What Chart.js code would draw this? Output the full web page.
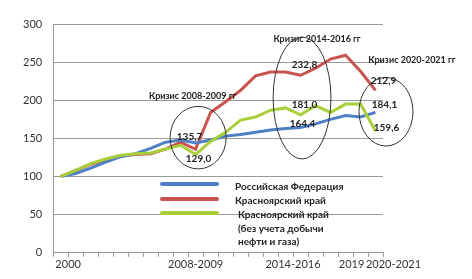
<!DOCTYPE html>
<html>
<head>
<meta charset="utf-8">
<script src="https://cdn.jsdelivr.net/npm/chart.js@4"></script>
<style>
  body { margin: 0; background: #fff; }
  #wrap { width: 472px; height: 279px; }
</style>
</head>
<body>
<div id="wrap"><canvas id="myChart" width="472" height="279"></canvas></div>
<script>
// years on the x axis
const years = ['2000','2001','2002','2003','2004','2005','2006','2007','2008','2009','2010',
  '2011','2012','2013','2014','2015','2016','2017','2018','2019','2020','2021'];
// what is printed under the axis, and where (in year-index units)
const tickLabels = ['2000', '2008-2009', '2014-2016', '2019', '2020-2021'];
const tickSpots = [0.5, 9.0, 15.5, 19.4, 22.2];

// index 2000 = 100
const russia = [100, 104, 111, 119, 126, 130, 137, 145, 148, 144, 148,
  153, 155, 158, 161, 163, 164.4, 169, 175, 180, 178, 184.1];
const krasnoyarsk = [100, 108, 116, 122, 127, 129, 130, 136, 145, 135.7, 184,
  198, 213, 232, 237, 237, 232.8, 242, 254, 259, 238, 212.9];
const krasnoyarskNoOil = [100, 108, 117, 123, 128, 130, 131, 136, 141, 129.0, 146,
  158, 174, 178, 187, 190, 181.0, 193, 184, 195, 195, 159.6];

const seriesNames = ['Российская Федерация', 'Красноярский край', 'Красноярский край'];
const legendExtra = ['(без учета добычи', 'нефти и газа)'];
const crisisTitles = ['Кризис 2008-2009 гг', 'Кризис 2014-2016 гг', 'Кризис 2020-2021 гг'];

const BLUE = '#4f7fc4';
const RED = '#c9534f';
const GREEN = '#a8cf3a';
const GRID = '#9a9a9a';
const FONT = 'Lato, "Open Sans", sans-serif';

// annotations drawn on top of the chart
const annotationPlugin = {
  id: 'crisisNotes',
  afterDraw(chart) {
    const ctx = chart.ctx;
    const x = chart.scales.x;
    const y = chart.scales.y;
    const slot = x.getPixelForValue(1) - x.getPixelForValue(0);

    // ellipses (centre in index / value units)
    const ellipses = [
      {cx: 9.17, cy: 151, rx: 1.87, ry: 41},
      {cx: 16.1, cy: 203, rx: 1.93, ry: 80},
      {cx: 21.7, cy: 185, rx: 1.8, ry: 45}
    ];
    ctx.save();
    ctx.strokeStyle = '#333';
    ctx.lineWidth = 1;
    ellipses.forEach(e => {
      ctx.beginPath();
      ctx.ellipse(x.getPixelForValue(e.cx), y.getPixelForValue(e.cy), e.rx * slot,
        Math.abs(y.getPixelForValue(0) - y.getPixelForValue(e.ry)), 0, 0, Math.PI * 2);
      ctx.stroke();
    });

    // crisis titles
    ctx.fillStyle = '#222';
    ctx.font = 'bold 9px ' + FONT;
    ctx.textAlign = 'center';
    ctx.textBaseline = 'middle';
    const titlePos = [[8.8, 206], [17.1, 280], [23.43, 253]];
    crisisTitles.forEach((t, i) => {
      ctx.fillText(t, x.getPixelForValue(titlePos[i][0]), y.getPixelForValue(titlePos[i][1]));
    });

    // value labels next to points: dataset, index, dx, dy
    const labelSpots = [
      [1, 9, -6, -13], [2, 9, 3, 4],
      [1, 16, 4, -10], [2, 16, 4, -10], [0, 16, 2, -4],
      [1, 21, 8, -10], [0, 21, 9, -8], [2, 21, 11, -3]
    ];
    ctx.font = 'bold 10px ' + FONT;
    labelSpots.forEach(s => {
      const pt = chart.getDatasetMeta(s[0]).data[s[1]];
      const v = chart.data.datasets[s[0]].data[s[1]];
      ctx.fillText(v.toFixed(1).replace('.', ','), pt.x + s[2], pt.y + s[3]);
    });

    // legend inside plot
    const colors = [BLUE, RED, GREEN];
    const rows = [184, 199, 213];
    ctx.lineWidth = 4;
    ctx.lineCap = 'round';
    colors.forEach((c, i) => {
      ctx.strokeStyle = c;
      ctx.beginPath();
      ctx.moveTo(162, rows[i]);
      ctx.lineTo(217, rows[i]);
      ctx.stroke();
    });
    ctx.textAlign = 'left';
    ctx.fillStyle = '#222';
    ctx.font = 'bold 10px ' + FONT;
    ctx.fillText(seriesNames[0], 235, 187);
    ctx.fillText(seriesNames[1], 235, 201);
    ctx.fillText(seriesNames[2], 238, 215);
    ctx.fillText(legendExtra[0], 238, 229);
    ctx.fillText(legendExtra[1], 238, 242);
    ctx.restore();
  }
};

const ctx = document.getElementById('myChart').getContext('2d');
const myChart = new Chart(ctx, {
  type: 'line',
  data: {
    labels: years,
    datasets: [
      {label: seriesNames[0], data: russia, borderColor: BLUE, order: 1},
      {label: seriesNames[1], data: krasnoyarsk, borderColor: RED, order: 2},
      {label: seriesNames[2], data: krasnoyarskNoOil, borderColor: GREEN, order: 0}
    ].map(d => Object.assign(d, {borderWidth: 3, pointRadius: 0, tension: 0, fill: false}))
  },
  options: {
    responsive: false,
    devicePixelRatio: 1,
    animation: false,
    layout: {padding: {left: 12, right: 89, top: 24, bottom: 7}},
    plugins: {legend: {display: false}, tooltip: {enabled: false}},
    scales: {
      x: {
        weight: 0,
        offset: true,
        grid: {offset: true, drawOnChartArea: false, drawTicks: true, tickLength: 4, color: GRID},
        border: {color: GRID},
        ticks: {display: false}
      },
      xl: {
        type: 'linear',
        position: 'bottom',
        weight: 1,
        min: -0.5, max: 21.5,
        grid: {display: false, drawTicks: false},
        border: {display: false},
        afterBuildTicks: axis => { axis.ticks = tickSpots.map(v => ({value: v})); },
        ticks: {
          autoSkip: false, maxRotation: 0, padding: 1,
          color: '#333', font: {family: FONT, size: 11},
          callback: (v, i) => tickLabels[i]
        }
      },
      y: {
        min: 0, max: 300,
        grid: {color: GRID, drawTicks: false},
        border: {color: GRID},
        ticks: {stepSize: 50, padding: 11, color: '#333', font: {family: FONT, size: 11}}
      }
    }
  },
  plugins: [annotationPlugin]
});
</script>
</body>
</html>
